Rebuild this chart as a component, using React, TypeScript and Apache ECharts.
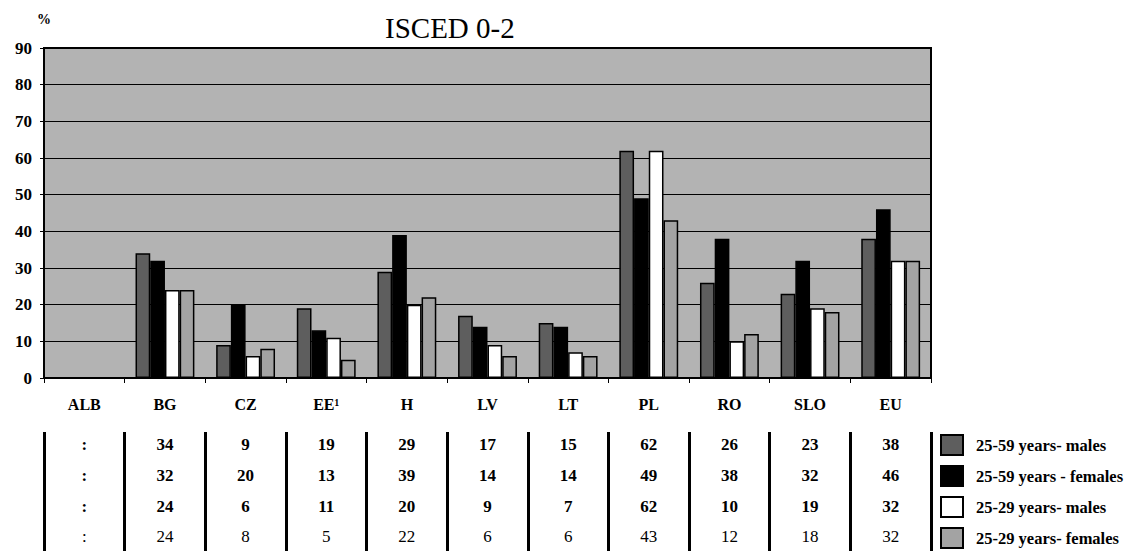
import React, { useEffect, useRef } from "react";
import * as echarts from "echarts";

// Educational attainment ISCED 0-2, share of population (%) by country
const categories = ["ALB", "BG", "CZ", "EE\u00b9", "H", "LV", "LT", "PL", "RO", "SLO", "EU"];
const seriesNames = [
  "25-59 years- males",
  "25-59 years - females",
  "25-29 years- males",
  "25-29 years- females",
];
const males2559: (number | null)[] = [null, 34, 9, 19, 29, 17, 15, 62, 26, 23, 38];
const females2559: (number | null)[] = [null, 32, 20, 13, 39, 14, 14, 49, 38, 32, 46];
const males2529: (number | null)[] = [null, 24, 6, 11, 20, 9, 7, 62, 10, 19, 32];
const females2529: (number | null)[] = [null, 24, 8, 5, 22, 6, 6, 43, 12, 18, 32];
const yMin = 0;
const yMax = 90;
const yStep = 10;

const SERIF = "'Liberation Serif', 'Times New Roman', serif";
const barColors = ["#5e5e5e", "#000000", "#ffffff", "#a3a3a3"];
const rows = [males2559, females2559, males2529, females2529];

export default function App() {
  const ref = useRef<HTMLDivElement>(null);

  useEffect(() => {
    if (!ref.current) return;
    const chart = echarts.init(ref.current, undefined, { renderer: "svg" });

    // table rows under the axis, one category axis per row
    const rowOffsets = [58, 89, 120, 150];
    const tableAxes = rows.map((row, r) => ({
      type: "category",
      data: categories,
      gridIndex: 0,
      position: "bottom",
      offset: rowOffsets[r],
      axisLine: { show: false },
      axisTick: { show: false },
      axisLabel: {
        interval: 0,
        margin: 0,
        fontFamily: SERIF,
        fontSize: 17,
        fontWeight: r === 3 ? "normal" : "bold",
        color: "#000",
        formatter: (_v: string, i: number) => (row[i] == null ? ":" : String(row[i])),
      },
    }));

    // vertical column dividers of the table
    const dividerAxis = {
      type: "category",
      data: categories,
      gridIndex: 0,
      position: "bottom",
      offset: 54,
      axisLine: { show: false },
      axisLabel: { show: false },
      axisTick: { show: true, length: 125, lineStyle: { color: "#000", width: 3 } },
    };

    const makeSeries = (name: string, data: (number | null)[], idx: number) => ({
      name,
      type: "bar",
      xAxisIndex: 0,
      yAxisIndex: 0,
      data: data.map((v) => (v == null ? "-" : v)),
      barGap: "0%",
      barCategoryGap: "27%",
      itemStyle: { color: barColors[idx], borderColor: "#000", borderWidth: 1.5 },
    });

    chart.setOption({
      animation: false,
      backgroundColor: "#ffffff",
      title: {
        text: "ISCED 0-2",
        left: 380,
        top: 8,
        textStyle: { fontFamily: SERIF, fontSize: 29, fontWeight: "normal", color: "#000" },
      },
      legend: {
        orient: "vertical",
        left: 940,
        top: 434,
        height: 125,
        padding: 0,
        itemWidth: 22,
        itemHeight: 20,
        itemGap: 9,
        icon: "rect",
        selectedMode: false,
        data: seriesNames,
        textStyle: {
          fontFamily: SERIF,
          fontSize: 16.5,
          lineHeight: 20,
          fontWeight: "bold",
          color: "#000",
          padding: [0, 0, 0, 8],
        },
      },
      grid: {
        left: 44,
        right: 209,
        top: 48,
        bottom: 173,
        show: true,
        backgroundColor: "#b3b3b3",
        borderColor: "#000",
        borderWidth: 2,
      },
      xAxis: [
        {
          type: "category",
          data: categories,
          axisLine: { show: true, lineStyle: { color: "#000", width: 2 } },
          axisTick: { show: true, length: 5, lineStyle: { color: "#000" } },
          axisLabel: {
            interval: 0,
            margin: 18,
            fontFamily: SERIF,
            fontSize: 16,
            fontWeight: "bold",
            color: "#000",
          },
        },
        ...tableAxes,
        dividerAxis,
      ],
      yAxis: {
        type: "value",
        min: yMin,
        max: yMax,
        interval: yStep,
        name: "%",
        nameLocation: "end",
        nameGap: 22,
        nameTextStyle: { fontFamily: SERIF, fontSize: 14, fontWeight: "bold", color: "#000" },
        axisLine: { show: true, lineStyle: { color: "#000", width: 2 } },
        axisTick: { show: true, length: 4, lineStyle: { color: "#000" } },
        axisLabel: {
          margin: 12,
          fontFamily: SERIF,
          fontSize: 17,
          fontWeight: "bold",
          color: "#000",
        },
        splitLine: { show: true, lineStyle: { color: "#000", width: 1.2 } },
      },
      series: [
        makeSeries(seriesNames[0], males2559, 0),
        makeSeries(seriesNames[1], females2559, 1),
        makeSeries(seriesNames[2], males2529, 2),
        makeSeries(seriesNames[3], females2529, 3),
      ],
    });

    return () => chart.dispose();
  }, []);

  return (
    <div
      ref={ref}
      style={{ position: "absolute", left: 0, top: 0, width: 1140, height: 551 }}
    />
  );
}
